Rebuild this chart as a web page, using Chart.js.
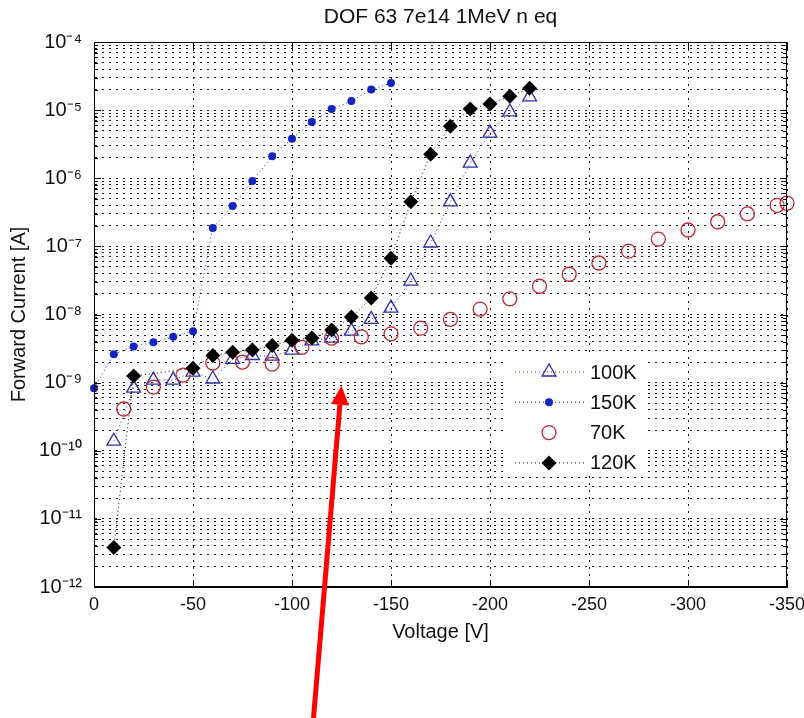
<!DOCTYPE html>
<html>
<head>
<meta charset="utf-8">
<script src="https://cdn.jsdelivr.net/npm/chart.js@4.4.0/dist/chart.umd.min.js"></script>
<style>
  html, body { margin: 0; padding: 0; background: #fff; }
  #wrap { width: 804px; height: 718px; }
</style>
</head>
<body>
<div id="wrap"><canvas id="chartIV" width="804" height="718"></canvas></div>
<script>
// ── Forward I-V sweeps, one run per temperature ──
const TITLE = 'DOF 63 7e14 1MeV n eq';
const X_LABEL = 'Voltage [V]';
const Y_LABEL = 'Forward Current [A]';
const SERIES_LABELS = ['100K', '150K', '70K', '120K'];

const V_100K = [-10, -20, -30, -40, -50, -60, -70, -80, -90, -100, -110,
  -120, -130, -140, -150, -160, -170, -180, -190, -200, -210, -220];
const I_100K = [1.38e-10, 8.3e-10, 1.09e-9, 1.09e-9, 1.43e-9, 1.13e-9, 2.2e-9, 2.5e-9, 2.45e-9, 3.0e-9, 4.1e-9,
  4.5e-9, 5.7e-9, 8.5e-9, 1.24e-8, 3.1e-8, 1.12e-7, 4.5e-7, 1.67e-6, 4.6e-6, 9.4e-6, 1.56e-5];

const V_150K = [0, -10, -20, -30, -40, -50, -60, -70, -80, -90, -100, -110, -120, -130, -140, -150];
const I_150K = [8.3e-10, 2.6e-9, 3.4e-9, 3.9e-9, 4.7e-9, 5.7e-9, 1.86e-7, 3.9e-7, 9.1e-7, 2.1e-6,
  3.8e-6, 6.7e-6, 1.04e-5, 1.36e-5, 2.0e-5, 2.5e-5];

const V_70K = [-15, -30, -45, -60, -75, -90, -105, -120, -135, -150, -165, -180,
  -195, -210, -225, -240, -255, -270, -285, -300, -315, -330, -345, -350];
const I_70K = [4.1e-10, 8.6e-10, 1.29e-9, 1.94e-9, 2.0e-9, 1.87e-9, 3.3e-9, 4.5e-9, 4.7e-9, 5.2e-9, 6.3e-9, 8.5e-9,
  1.2e-8, 1.7e-8, 2.6e-8, 3.9e-8, 5.7e-8, 8.5e-8, 1.28e-7, 1.74e-7, 2.3e-7, 3.0e-7, 4.0e-7, 4.3e-7];

const V_120K = [-10, -20, -50, -60, -70, -80, -90, -100, -110, -120, -130, -140,
  -150, -160, -170, -180, -190, -200, -210, -220];
const I_120K = [3.8e-12, 1.25e-9, 1.63e-9, 2.5e-9, 2.8e-9, 3.0e-9, 3.5e-9, 4.2e-9, 4.5e-9, 5.9e-9, 9.2e-9, 1.74e-8,
  6.7e-8, 4.5e-7, 2.26e-6, 5.8e-6, 1.04e-5, 1.23e-5, 1.6e-5, 2.1e-5];

// axis ranges: decades shown on the log axis, voltage step on the linear one
const Y_DECADES = [-12, -11, -10, -9, -8, -7, -6, -5, -4];
const X_MIN = -350, X_MAX = 0, X_STEP = 50;

// arrow annotation: tip in data units
const ARROW_TIP = { v: -125, i: 9e-10 };

const FONT = '"Liberation Sans", Arial, sans-serif';
const INK = '#111';

// ── Helpers ──
const SUP = { '-': '\u207B', '0': '\u2070', '1': '\u00B9', '2': '\u00B2', '3': '\u00B3',
  '4': '\u2074', '5': '\u2075', '6': '\u2076', '7': '\u2077', '8': '\u2078', '9': '\u2079' };

function pow10Label(value) {
  const e = Math.round(Math.log10(value));
  if (Math.abs(value / Math.pow(10, e) - 1) > 1e-6) return '';
  return '10' + String(e).split('').map(c => SUP[c]).join('');
}

// log ticks at 1..9 x 10^n, like a matlab minor grid
function logTicks() {
  const out = [];
  for (let k = 0; k < Y_DECADES.length; k++) {
    const e = Y_DECADES[k];
    if (k === Y_DECADES.length - 1) { out.push({ value: Math.pow(10, e) }); break; }
    for (let m = 1; m <= 9; m++) out.push({ value: Number((m * Math.pow(10, e)).toPrecision(3)) });
  }
  return out;
}

function pts(xs, ys) {
  return xs.map((x, k) => ({ x, y: ys[k] }));
}

function series(label, xs, ys, o) {
  return Object.assign({
    label,
    data: pts(xs, ys),
    borderWidth: 1,
    borderDash: [1, 3],
    pointBorderWidth: 1.3,
    clip: false,
    tension: 0,
  }, o);
}

// ── In-axes legend, boxed white like matlab ──
const insideLegend = {
  id: 'insideLegend',
  afterDatasetsDraw(chart) {
    const { ctx } = chart;
    const bx = 507, by = 356, bw = 140, bh = 120;
    ctx.save();
    ctx.fillStyle = '#fff';
    ctx.fillRect(bx, by, bw, bh);
    chart.data.datasets.forEach((ds, i) => {
      const y = by + 16 + i * 30.3;
      if (ds.showLine !== false) {
        ctx.strokeStyle = ds.borderColor;
        ctx.lineWidth = 1;
        ctx.setLineDash([1, 3]);
        ctx.beginPath();
        ctx.moveTo(bx + 8, y);
        ctx.lineTo(bx + 80, y);
        ctx.stroke();
        ctx.setLineDash([]);
      }
      ctx.fillStyle = ds.pointBackgroundColor;
      ctx.strokeStyle = ds.pointBorderColor;
      ctx.lineWidth = ds.pointBorderWidth;
      Chart.helpers.drawPoint(ctx, {
        pointStyle: ds.pointStyle, radius: ds.pointRadius,
        borderWidth: ds.pointBorderWidth, rotation: 0,
      }, bx + 42, y);
      ctx.fillStyle = INK;
      ctx.font = '20px ' + FONT;
      ctx.textAlign = 'left';
      ctx.textBaseline = 'middle';
      ctx.fillText(ds.label, bx + 83, y + 1);
    });
    ctx.restore();
  },
};

// ── Axes box, inward tick marks, arrow ──
const axesBox = {
  id: 'axesBox',
  afterDraw(chart) {
    const { ctx, chartArea: a, scales } = chart;
    ctx.save();
    ctx.strokeStyle = '#000';
    ctx.lineWidth = 1;
    ctx.strokeRect(a.left + 0.5, a.top + 0.5, a.right - a.left - 1, a.bottom - a.top - 1);

    ctx.beginPath();
    for (const t of scales.x.ticks) {
      const px = Math.round(scales.x.getPixelForValue(t.value)) + 0.5;
      ctx.moveTo(px, a.bottom); ctx.lineTo(px, a.bottom - 7);
      ctx.moveTo(px, a.top); ctx.lineTo(px, a.top + 7);
    }
    for (const t of scales.y.ticks) {
      const py = Math.round(scales.y.getPixelForValue(t.value)) + 0.5;
      const len = pow10Label(t.value) ? 7 : 4;
      ctx.moveTo(a.left, py); ctx.lineTo(a.left + len, py);
      ctx.moveTo(a.right, py); ctx.lineTo(a.right - len, py);
    }
    ctx.stroke();

    // red arrow pointing at the knee region
    const tx = scales.x.getPixelForValue(ARROW_TIP.v);
    const ty = scales.y.getPixelForValue(ARROW_TIP.i);
    const sx = tx - 28, sy = chart.height;
    const ang = Math.atan2(ty - sy, tx - sx);
    const head = 19, half = 9;
    const hx = tx - Math.cos(ang) * head, hy = ty - Math.sin(ang) * head;
    ctx.strokeStyle = '#ff0000';
    ctx.fillStyle = '#ff0000';
    ctx.lineWidth = 5;
    ctx.beginPath();
    ctx.moveTo(sx, sy);
    ctx.lineTo(hx, hy);
    ctx.stroke();
    ctx.beginPath();
    ctx.moveTo(tx, ty);
    ctx.lineTo(hx + Math.sin(ang) * half, hy - Math.cos(ang) * half);
    ctx.lineTo(hx - Math.sin(ang) * half, hy + Math.cos(ang) * half);
    ctx.closePath();
    ctx.fill();
    ctx.restore();
  },
};

const gridOpts = { color: '#1a1a1a', lineWidth: 1, drawTicks: false };
const gridDash = { dash: [2, 5], color: '#000' };

new Chart(document.getElementById('chartIV'), {
  type: 'line',
  data: {
    datasets: [
      series(SERIES_LABELS[0], V_100K, I_100K, {
        borderColor: '#2b2fa6', pointStyle: 'triangle', pointRadius: 8,
        pointBorderColor: '#2b2fa6', pointBackgroundColor: 'rgba(0,0,0,0)', order: 4,
      }),
      series(SERIES_LABELS[1], V_150K, I_150K, {
        borderColor: '#1424c4', pointStyle: 'circle', pointRadius: 4,
        pointBorderColor: '#1424c4', pointBackgroundColor: '#1424c4', pointBorderWidth: 0, order: 3,
      }),
      series(SERIES_LABELS[2], V_70K, I_70K, {
        borderColor: '#c02634', showLine: false, pointStyle: 'circle', pointRadius: 7,
        pointBorderColor: '#c02634', pointBackgroundColor: 'rgba(0,0,0,0)', order: 2,
      }),
      series(SERIES_LABELS[3], V_120K, I_120K, {
        borderColor: '#000', pointStyle: 'rectRot', pointRadius: 7.5,
        pointBorderColor: '#000', pointBackgroundColor: '#000', pointBorderWidth: 0, order: 1,
      }),
    ],
  },
  options: {
    responsive: false,
    animation: false,
    layout: { padding: { left: 0, right: 17, top: 0, bottom: 74 } },
    plugins: {
      legend: { display: false },
      tooltip: { enabled: false },
      title: {
        display: true, text: TITLE, fullSize: false, color: INK,
        font: { family: FONT, size: 21, weight: 'normal' },
        padding: { top: 5, bottom: 11.8 },
      },
    },
    scales: {
      x: {
        type: 'linear', min: X_MIN, max: X_MAX, reverse: true,
        afterFit: s => { s.height = 57; s.paddingLeft = 0; s.paddingRight = 0; },
        ticks: { stepSize: X_STEP, padding: 7, color: INK, maxRotation: 0, autoSkip: false,
          font: { family: FONT, size: 18 } },
        grid: gridOpts,
        border: gridDash,
        title: { display: true, text: X_LABEL, color: INK, font: { family: FONT, size: 20 },
          padding: { top: 0, bottom: 0 } },
      },
      y: {
        type: 'logarithmic', min: Math.pow(10, Y_DECADES[0]), max: Math.pow(10, Y_DECADES[Y_DECADES.length - 1]),
        afterFit: s => { s.width = 94; s.paddingTop = 0; s.paddingBottom = 0; },
        afterBuildTicks: s => { s.ticks = logTicks(); },
        ticks: { autoSkip: false, padding: 12, color: INK, callback: v => pow10Label(v),
          font: { family: FONT, size: 20 } },
        grid: gridOpts,
        border: gridDash,
        title: { display: true, text: Y_LABEL, color: INK, font: { family: FONT, size: 20 },
          padding: { top: 7, bottom: 0 } },
      },
    },
  },
  plugins: [insideLegend, axesBox],
});
</script>
</body>
</html>
